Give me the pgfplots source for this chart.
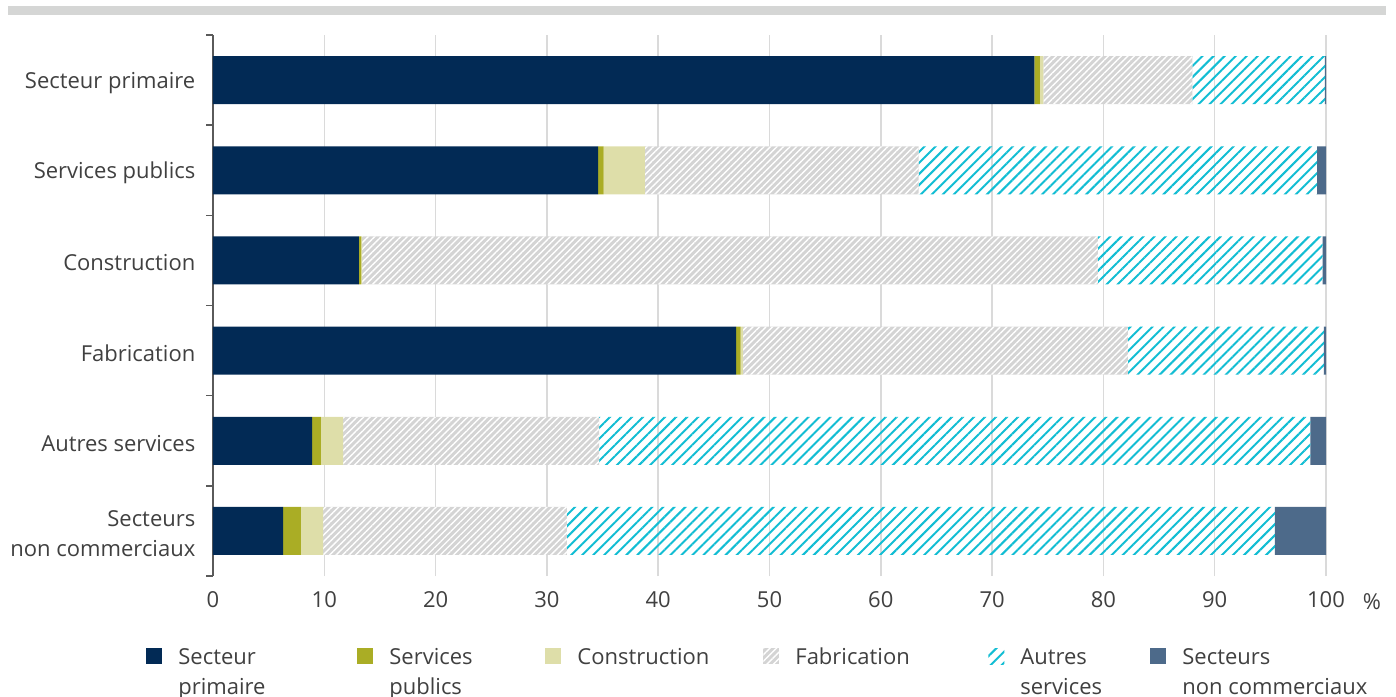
\documentclass[border=0pt]{standalone}
\usepackage{pgfplots}
\pgfplotsset{compat=1.18}
\usepackage{pgfplotstable}
\usepackage{fontspec}
\setmainfont{Open Sans}
\usetikzlibrary{patterns.meta}

\definecolor{navy}{HTML}{022A55}
\definecolor{olivec}{HTML}{AAAD25}
\definecolor{sand}{HTML}{DEDEA9}
\definecolor{fabgray}{HTML}{D4D4D4}
\definecolor{cyanc}{HTML}{12BDD3}
\definecolor{slate}{HTML}{4D6A8A}
\definecolor{txt}{HTML}{404040}
\definecolor{axiscol}{HTML}{5A5A5A}
\definecolor{gridcol}{HTML}{DADADA}
\definecolor{rulecol}{HTML}{D5D6D5}

% shares (%) by sector, bottom row of the chart first
\pgfplotstableread{
y sp   spub cons fab  autres nc
0 6.3  1.6  2.0  21.9 63.6   4.6
1 8.9  0.8  2.0  23.0 63.9   1.4
2 47.0 0.4  0.2  34.6 17.6   0.2
3 13.1 0.2  0.1  66.1 20.2   0.3
4 34.6 0.5  3.7  24.6 35.8   0.8
5 73.8 0.5  0.3  13.4 11.9   0.1
}\shares

\pgfplotsset{
  sq legend/.style={legend image code/.code={
    \fill[##1] (0pt,0pt) rectangle (8pt,8pt);
    \path (16pt,0pt);}},
}

\begin{document}
\begin{tikzpicture}[font=\fontsize{11}{15}\selectfont]
\useasboundingbox (-106.5pt,-60pt) rectangle (591.5pt,288pt);
\fill[rulecol] (-102.5pt,280.5pt) rectangle (586.5pt,285pt);
\begin{axis}[
  at={(0pt,0pt)}, anchor=south west,
  scale only axis, width=556.5pt, height=270.5pt,
  xbar stacked, bar width=24pt,
  xmin=0, xmax=100, ymin=-0.5, ymax=5.5,
  enlargelimits=false,
  axis lines*=left,
  axis line style={-},
  x axis line style={draw=none},
  y axis line style={draw=axiscol, line width=0.8pt},
  xtick={0,10,...,100},
  xtick style={draw=none},
  ytick={0,...,5},
  yticklabels={{Secteurs\\non commerciaux}, Autres services, Fabrication, Construction, Services publics, Secteur primaire},
  minor ytick={-0.5,0.5,1.5,2.5,3.5,4.5,5.5},
  major tick length=0pt, minor tick length=3.5pt, tick align=outside,
  major y tick style={draw=none},
  minor y tick style={draw=axiscol, line width=0.8pt},
  xmajorgrids=true,
  grid style={gridcol, line width=0.75pt},
  /pgf/number format/assume math mode=true,
  tick label style={font=\fontsize{11}{15}\selectfont, text=txt},
  yticklabel style={align=right, xshift=-5.3pt, yshift=-1.3pt},
  xticklabel style={yshift=-4.3pt},
  xlabel={\%},
  xlabel style={at={(rel axis cs:1,0)}, anchor=north, xshift=23pt, yshift=-8.5pt,
    inner sep=0pt, font=\fontsize{11}{15}\selectfont, text=txt},
  legend columns=6,
  legend style={at={(0,0)}, anchor=north west, xshift=-33.5pt, yshift=-35.6pt,
    draw=none, fill=none, inner sep=0pt, /tikz/column sep=0pt,
    font=\fontsize{11}{15}\selectfont, text=txt,
    cells={anchor=base west}, nodes={inner sep=0pt}},
]
\addplot[sq legend, draw=none, fill=navy] table[x=sp, y=y] {\shares};
\addlegendentry{\parbox[t]{89.5pt}{Secteur\\primaire}}
\addplot[sq legend, draw=none, fill=olivec] table[x=spub, y=y] {\shares};
\addlegendentry{\parbox[t]{78pt}{Services\\publics}}
\addplot[sq legend, draw=none, fill=sand] table[x=cons, y=y] {\shares};
\addlegendentry{\parbox[t]{93pt}{Construction}}
\addplot[sq legend, draw=none, fill=fabgray,
  postaction={pattern={Lines[angle=45, distance=2.3pt, line width=0.7pt]}, pattern color=white}]
  table[x=fab, y=y] {\shares};
\addlegendentry{\parbox[t]{96.5pt}{Fabrication}}
\addplot[sq legend, draw=none,
  pattern={Lines[angle=45, distance=3.9pt, line width=1pt]}, pattern color=cyanc]
  table[x=autres, y=y] {\shares};
\addlegendentry{\parbox[t]{65pt}{Autres\\services}}
\addplot[sq legend, draw=none, fill=slate] table[x=nc, y=y] {\shares};
\addlegendentry{\parbox[t]{95pt}{Secteurs\\non commerciaux}}
\end{axis}
\end{tikzpicture}
\end{document}
